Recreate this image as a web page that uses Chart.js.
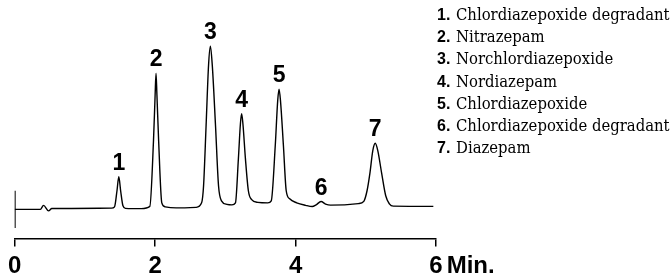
<!DOCTYPE html>
<html>
<head>
<meta charset="utf-8">
<script src="https://cdn.jsdelivr.net/npm/chart.js@4.4.0/dist/chart.umd.min.js"></script>
<style>
  body { margin: 0; background: #fff; }
  #wrap { position: relative; width: 671px; height: 278px; }
  #legend { position: absolute; left: 437px; top: 4px; font-family: 'DejaVu Serif Condensed', 'DejaVu Serif', serif; font-size: 16.5px; line-height: 22.2px; color: #000; white-space: nowrap; }
  #legend b { font-family: 'Liberation Sans', Arial, sans-serif; font-weight: bold; font-size: 16px; display: inline-block; width: 19px; }
</style>
</head>
<body>
<div id="wrap">
  <canvas id="chromChart" width="671" height="278"></canvas>
  <div id="legend"></div>
</div>
<script>
// time axis (min) and tick values
const xTicks = [0, 2, 4, 6];

// peaks: retention time, height above baseline, number label
const peakTimes   = [1.483, 2.013, 2.787, 3.232, 3.765, 4.363, 5.135];
const peakHeights = [32.5, 135.5, 162.5, 95.2, 119.5, 7.8, 65.8];
const peakLabels  = ['1', '2', '3', '4', '5', '6', '7'];
const compoundNames = [
  'Chlordiazepoxide degradant',
  'Nitrazepam',
  'Norchlordiazepoxide',
  'Nordiazepam',
  'Chlordiazepoxide',
  'Chlordiazepoxide degradant',
  'Diazepam'
];

// detector trace (time, signal)
const traceTimes = [
  0, 0.366, 0.411, 0.482, 0.529, 1.379,
  1.422, 1.457, 1.483, 1.509, 1.542, 1.578, 1.804,
  1.925, 1.977, 2.000, 2.013, 2.026, 2.050, 2.095, 2.145, 2.300, 2.584,
  2.662, 2.690, 2.726, 2.761, 2.787, 2.814, 2.860, 2.903, 2.945, 3.023, 3.094,
  3.144, 3.186, 3.215, 3.232, 3.250, 3.286, 3.328, 3.371, 3.463, 3.605,
  3.654, 3.711, 3.746, 3.765, 3.785, 3.827, 3.867, 3.916, 4.016, 4.143, 4.238,
  4.292, 4.363, 4.427, 4.498, 4.894, 4.972,
  5.018, 5.058, 5.100, 5.135, 5.171, 5.227, 5.284, 5.336, 5.391, 5.962
];
const traceSignal = [
  0, 0, 4, -1.5, 0.8, 1.2,
  2.5, 18.5, 32.5, 18.5, 3.5, 1, 0.7,
  3, 68.5, 113.5, 135.5, 113.5, 68.5, 6.5, 2.5, 1.5, 2,
  6.5, 23.5, 83.5, 143.5, 162.5, 143.5, 83.5, 23.5, 8.5, 5, 4.5,
  6.5, 50.5, 85.5, 95.2, 85.5, 50.5, 18.5, 10, 7, 6.5,
  8.5, 63.5, 108.5, 119.5, 108.5, 63.5, 18.5, 10.5, 6.5, 4, 2.8,
  4.5, 7.8, 5.3, 4.2, 5.7, 8,
  18.5, 35.5, 58.5, 65.8, 58.5, 35.5, 13.5, 5.5, 3.2, 3
];

// injection marker at t = 0
const markerTimes = [0, 0];
const markerSignal = [18.5, -18.5];

const tickFont = { family: "'Liberation Sans', Arial, sans-serif", weight: 'bold', size: 24, lineHeight: 1 };
const peakFont = "bold 23px 'Liberation Sans', Arial, sans-serif";

const peakLabelPlugin = {
  id: 'peakLabels',
  afterDatasetsDraw(chart) {
    const ctx = chart.ctx;
    const xs = chart.scales.x, ys = chart.scales.y;
    ctx.save();
    ctx.fillStyle = '#000';
    ctx.font = peakFont;
    ctx.textAlign = 'center';
    ctx.textBaseline = 'alphabetic';
    peakTimes.forEach((t, i) => {
      ctx.fillText(peakLabels[i], xs.getPixelForValue(t), ys.getPixelForValue(peakHeights[i]) - 7);
    });
    // unit after the last tick label
    ctx.font = `bold ${tickFont.size}px ${tickFont.family}`;
    ctx.textAlign = 'left';
    ctx.textBaseline = 'top';
    const x6 = xs.getPixelForValue(6) + ctx.measureText('6').width / 2 + 4;
    ctx.fillText('Min.', x6, xs.top + 8 + 8);
    ctx.restore();
  }
};

const ctx = document.getElementById('chromChart');
new Chart(ctx, {
  type: 'line',
  data: {
    datasets: [{
      data: traceTimes.map((t, i) => ({ x: t, y: traceSignal[i] })),
      borderColor: '#000',
      borderWidth: 1.4,
      pointRadius: 0,
      cubicInterpolationMode: 'monotone'
    }, {
      data: markerTimes.map((t, i) => ({ x: t, y: markerSignal[i] })),
      borderColor: '#000',
      borderWidth: 2,
      pointRadius: 0
    }]
  },
  options: {
    responsive: false,
    animation: false,
    devicePixelRatio: 1,
    layout: { padding: { left: 12.7, right: 235, top: 30, bottom: -8.5 } },
    plugins: { legend: { display: false }, tooltip: { enabled: false } },
    scales: {
      x: {
        type: 'linear',
        min: 0,
        max: 6,
        afterBuildTicks: axis => { axis.ticks = xTicks.map(v => ({ value: v })); },
        border: { display: true, color: '#000', width: 1.5 },
        grid: { drawOnChartArea: false, drawTicks: true, tickLength: 8, color: '#000', lineWidth: 1.5 },
        ticks: { color: '#000', font: tickFont, padding: 8, maxRotation: 0 }
      },
      y: {
        display: false,
        min: -29,
        max: 178.5
      }
    }
  },
  plugins: [peakLabelPlugin]
});

const legend = document.getElementById('legend');
compoundNames.forEach((name, i) => {
  const row = document.createElement('div');
  const num = document.createElement('b');
  num.textContent = peakLabels[i] + '.';
  row.appendChild(num);
  row.appendChild(document.createTextNode(name));
  legend.appendChild(row);
});
</script>
</body>
</html>
